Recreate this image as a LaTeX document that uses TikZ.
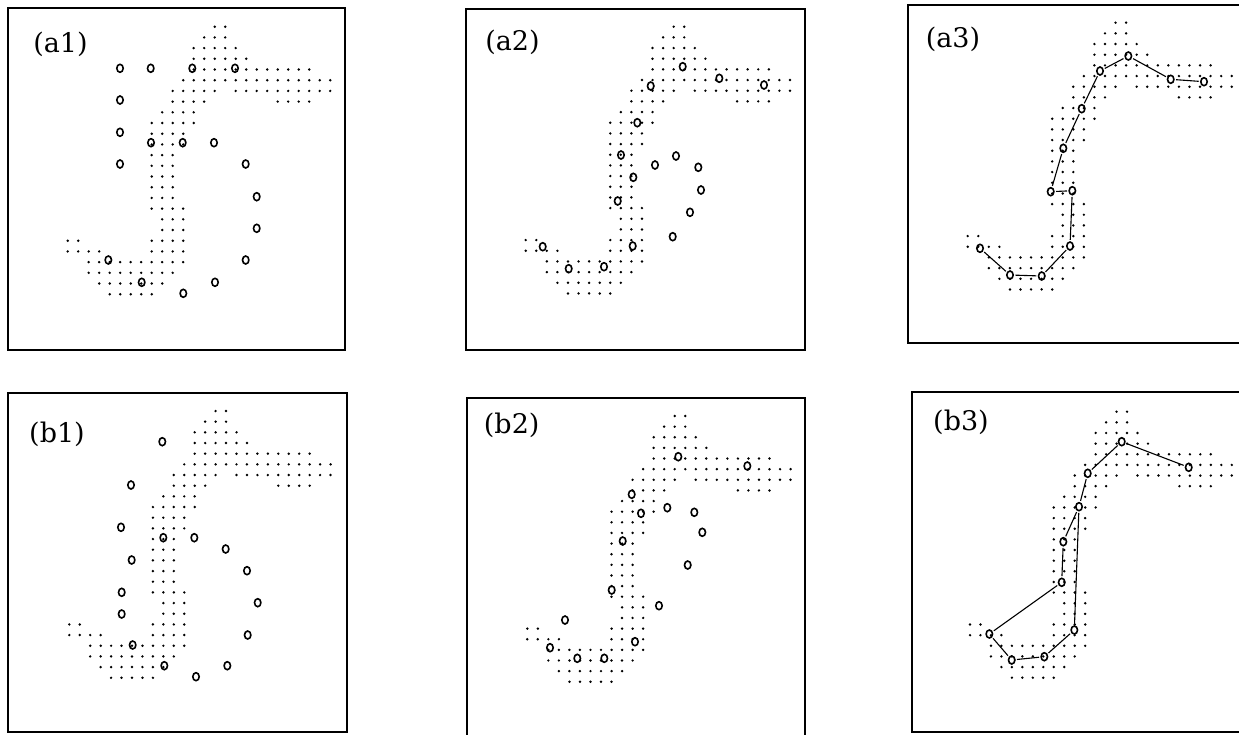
\documentclass[tikz,border=0pt]{standalone}
\usepackage{fontspec}
\setmainfont{DejaVu Serif}
\usetikzlibrary{shapes.geometric}
\tikzset{
  oc/.style={draw, ellipse, line width=1.6pt, minimum width=6.4pt, minimum height=8pt, inner sep=0pt},
  lab/.style={font=\fontsize{27}{30}\selectfont, inner sep=0pt},
  frame/.style={line width=1.3pt},
  link/.style={line width=1.1pt, shorten <=1.3pt, shorten >=1.3pt},
}
\newcommand\dotfield[4]{%
  \foreach \r/\a/\b in {0/14/15,1/13/15,2/12/16,3/12/17,4/12/23,5/11/25,6/10/14,6/16/25,
    7/10/13,7/20/23,8/9/12,9/8/12,10/8/11,11/8/11,12/8/10,13/8/10,14/8/10,15/8/10,16/8/10,
    17/8/11,18/9/11,19/9/11,20/0/1,20/8/11,21/0/3,21/8/11,22/2/11,23/2/10,24/3/9,25/4/8}{%
    \foreach \c in {\a,...,\b}{\fill (#1+\c*#3,#2+\r*#4) circle (1.35pt);}}}
\begin{document}
\begin{tikzpicture}[x=1pt,y=-1pt]
\useasboundingbox (0,0) rectangle (1239,734);
\fill[white] (0,0) rectangle (1239,734);
% frames
\draw[frame] (8,8) rectangle (345,350);
\draw[frame] (466,9) rectangle (805,350);
\draw[frame] (908,5) rectangle (1250,343);
\draw[frame] (8,393) rectangle (347,732);
\draw[frame] (467,398) rectangle (805,745);
\draw[frame] (912,392) rectangle (1250,732);
% labels
\node[lab] (la1) at (60.5,44) {(a1)};
\node[lab] (la2) at (512.5,42) {(a2)};
\node[lab] (la3) at (953,39) {(a3)};
\node[lab] (lb1) at (57,434) {(b1)};
\node[lab] (lb2) at (511.7,425) {(b2)};
\node[lab] (lb3) at (961,422) {(b3)};
% dot fields
\dotfield{67.7}{26.7}{10.5}{10.7}
\dotfield{525.7}{26.7}{10.57}{10.67}
\dotfield{967.7}{22.7}{10.56}{10.67}
\dotfield{69.3}{411}{10.45}{10.67}
\dotfield{527.3}{416}{10.53}{10.63}
\dotfield{970}{411.7}{10.47}{10.64}
% (a1) circles
\foreach \p [count=\i] in {(120,68.3),(150.7,68.3),(192.3,68.3),(235,68.3),(120,100),(120,132.3),
  (151,142.7),(182.7,142.7),(214,142.7),(120,164),(245.7,164),(256.7,196.7),(256.7,228.3),
  (245.7,260),(215,282.3),(183.3,293.3),(141.7,282.3),(108.3,260)}
  \node[oc] (a1c\i) at \p {};
% (a2) circles
\foreach \p [count=\i] in {(682.7,66.7),(719.3,78.3),(764,85),(650.7,86),(637.3,122.7),(621,155),
  (676,156),(655,165),(698.3,167.3),(633.3,177.3),(701,190),(617.7,201),(690,212.3),
  (672.7,236.7),(632.7,246),(542.7,246.7),(568.7,268.7),(604,266.7)}
  \node[oc] (a2c\i) at \p {};
% (a3) chain
\node[oc] (p1) at (980,248.3) {};
\node[oc] (p2) at (1010,275) {};
\node[oc] (p3) at (1041.7,276) {};
\node[oc] (p4) at (1070,246) {};
\node[oc] (p5) at (1072.3,190.7) {};
\node[oc] (p6) at (1050.7,191.7) {};
\node[oc] (p7) at (1063.3,148.3) {};
\node[oc] (p8) at (1081.7,108.7) {};
\node[oc] (p9) at (1100,71) {};
\node[oc] (p10) at (1128.3,56) {};
\node[oc] (p11) at (1170.7,79.3) {};
\node[oc] (p12) at (1204,81.7) {};
\draw[link] (p1) -- (p2);
\draw[link] (p2) -- (p3);
\draw[link] (p3) -- (p4);
\draw[link] (p4) -- (p5);
\draw[link] (p5) -- (p6);
\draw[link] (p6) -- (p7);
\draw[link] (p7) -- (p8);
\draw[link] (p8) -- (p9);
\draw[link] (p9) -- (p10);
\draw[link] (p10) -- (p11);
\draw[link] (p11) -- (p12);
% (b1) circles
\foreach \p [count=\i] in {(162.3,441.7),(131,485),(121,527.3),(163.3,537.7),(194.3,537.7),
  (225.7,549),(131.7,560),(247,570.7),(121.7,592.3),(257.7,602.7),(121.7,614),(247.7,635),
  (132.7,645),(227.3,665.7),(164.3,665.7),(196,676.7)}
  \node[oc] (b1c\i) at \p {};
% (b2) circles
\foreach \p [count=\i] in {(678.3,456.7),(747.3,466),(631.7,494.3),(667.3,507.7),(641,513.3),
  (694.3,512.3),(702.3,532.3),(622.7,541),(687.7,565),(611.7,590),(659,605.7),(565,620),
  (635,641.7),(550,647.7),(577.3,658.3),(604.3,658.3)}
  \node[oc] (b2c\i) at \p {};
% (b3) graph
\node[oc] (q1) at (989.3,634) {};
\node[oc] (q2) at (1011.7,660) {};
\node[oc] (q3) at (1044.3,656.7) {};
\node[oc] (q4) at (1074.3,630) {};
\node[oc] (q5) at (1079,506.7) {};
\node[oc] (q6) at (1087.7,473.3) {};
\node[oc] (q7) at (1121.7,441.7) {};
\node[oc] (q8) at (1188.7,467.3) {};
\node[oc] (q9) at (1063.3,541.7) {};
\node[oc] (q10) at (1061.7,582.3) {};
\draw[link] (q1) -- (q2);
\draw[link] (q2) -- (q3);
\draw[link] (q3) -- (q4);
\draw[link] (q4) -- (q5);
\draw[link] (q5) -- (q6);
\draw[link] (q6) -- (q7);
\draw[link] (q7) -- (q8);
\draw[link] (q5) -- (q9);
\draw[link] (q9) -- (q10);
\draw[link] (q10) -- (q1);
\end{tikzpicture}
\end{document}
